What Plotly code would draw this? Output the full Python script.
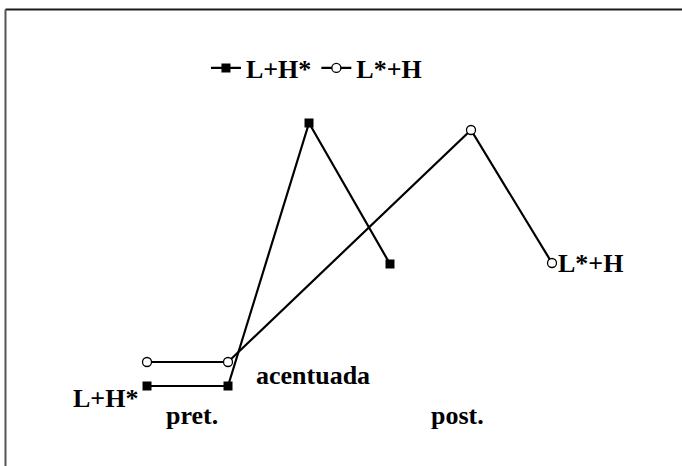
import plotly.graph_objects as go

# syllable positions and f0 values (arbitrary units)
lh_x = [0, 1, 2, 3]
lh_y = [14, 14, 277, 136]
ll_x = [0, 1, 4, 5]
ll_y = [38, 38, 270, 137]
series_names = ["L+H*", "L*+H"]

_FONT = "Liberation Serif, Times New Roman, serif"
W, H = 682, 466

fig = go.Figure()
fig.add_trace(go.Scatter(
    x=lh_x, y=lh_y, mode="lines+markers", name=series_names[0],
    line=dict(color="black", width=2.2),
    marker=dict(symbol="square", size=9, color="black"),
))
fig.add_trace(go.Scatter(
    x=ll_x, y=ll_y, mode="lines+markers", name=series_names[1],
    line=dict(color="black", width=2.2),
    marker=dict(symbol="circle", size=9, color="white",
                line=dict(color="black", width=1.3)),
))

txt = dict(family=_FONT, size=26, color="black", weight="bold")
labels = [
    ("L+H*", -0.09, 2, "right"),
    ("pret.", 0.56, -15, "center"),
    ("acentuada", 2.05, 25, "center"),
    ("post.", 3.83, -15, "center"),
    ("L*+H", 5.05, 137, "left"),
]
annotations = [dict(text=t, x=x, y=y, xanchor=a, yanchor="middle",
                    showarrow=False, font=txt) for t, x, y, a in labels]

fig.update_layout(
    width=W, height=H,
    margin=dict(l=0, r=0, t=0, b=0),
    paper_bgcolor="white", plot_bgcolor="white",
    xaxis=dict(visible=False, range=[-1.815, 6.605]),
    yaxis=dict(visible=False, range=[-66, 400]),
    showlegend=True,
    legend=dict(orientation="h", x=0.302, xanchor="left", y=0.854,
                yanchor="middle", font=txt, itemwidth=30,
                bgcolor="rgba(0,0,0,0)", tracegroupgap=0),
    annotations=annotations,
    shapes=[
        dict(type="line", xref="paper", yref="paper",
             x0=5.5 / W, x1=1, y0=1 - 9.5 / H, y1=1 - 9.5 / H,
             line=dict(color="#1a1a1a", width=2)),
        dict(type="line", xref="paper", yref="paper",
             x0=5.5 / W, x1=5.5 / W, y0=0, y1=1 - 9.5 / H,
             line=dict(color="#555555", width=2)),
    ],
)

# the page body has a default 8px margin; drop it so the figure sits at 0,0
fig.write_html(
    "out.html", config={"displayModeBar": False},
    post_script=("document.body.style.margin='0';"
                 "document.body.style.overflow='hidden';"
                 "document.documentElement.style.overflow='hidden';"),
)
